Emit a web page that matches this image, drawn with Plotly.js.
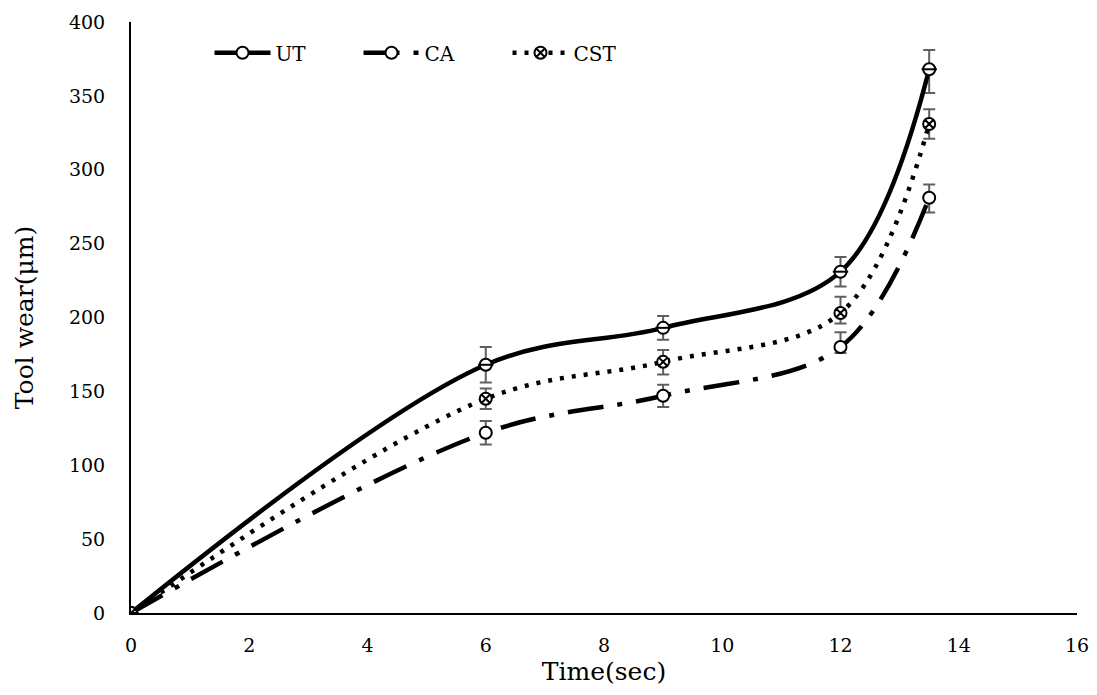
<!DOCTYPE html>
<html>
<head>
<meta charset="utf-8">
<script src="https://cdn.plot.ly/plotly-3.0.1.min.js"></script>
<style>html,body{margin:0;padding:0;background:#fff;}#chart{width:1097px;height:695px;}</style>
</head>
<body>
<div id="chart"></div>
<script>
const time = [0, 6, 9, 12, 13.5];
const utWear = [0, 168, 193, 231, 368];
const caWear = [0, 122, 147, 180, 281];
const cstWear = [0, 145, 170, 203, 331];
const utErrPlus = [0, 12, 8, 10, 13];
const utErrMinus = [0, 12, 8, 10, 16];
const caErrPlus = [0, 8, 7.5, 10, 9];
const caErrMinus = [0, 8, 7.5, 4, 10];
const cstErrPlus = [0, 7, 8, 11, 10];
const cstErrMinus = [0, 7, 8.5, 7, 10];
const seriesNames = ['UT', 'CA', 'CST'];
const xTicks = [0, 2, 4, 6, 8, 10, 12, 14, 16];
const yTicks = [0, 50, 100, 150, 200, 250, 300, 350, 400];

const errStyle = {color: '#5f5f5f', thickness: 2, width: 6};
const markerBase = {size: 12, color: '#ffffff', line: {color: '#000000', width: 2}};

function trace(name, y, plus, minus, dash, width, symbol) {
  return {
    x: time, y: y, name: name, type: 'scatter', mode: 'lines+markers',
    line: {color: '#000000', width: width, dash: dash, shape: 'spline', smoothing: 1},
    marker: Object.assign({}, markerBase, {symbol: symbol}),
    error_y: Object.assign({type: 'data', symmetric: false, array: plus, arrayminus: minus, visible: true}, errStyle)
  };
}

const data = [
  trace(seriesNames[0], utWear, utErrPlus, utErrMinus, 'solid', 4.5, 'circle'),
  trace(seriesNames[1], caWear, caErrPlus, caErrMinus, '36px,14px,5px,14px', 4.5, 'circle'),
  trace(seriesNames[2], cstWear, cstErrPlus, cstErrMinus, '4px,8px', 4.5, 'circle-x'),
  {x: time, y: utWear, type: 'scatter', mode: 'markers', showlegend: false, hoverinfo: 'skip',
   marker: {symbol: 'line-ew', size: 11, line: {color: '#000000', width: 2}}}
];

const layout = {
  width: 1097, height: 695,
  margin: {l: 131, r: 20, t: 22, b: 82},
  paper_bgcolor: '#ffffff', plot_bgcolor: '#ffffff',
  font: {family: 'DejaVu Serif, Liberation Serif, serif', color: '#000000', size: 19},
  showlegend: true,
  legend: {orientation: 'h', x: 0.083, y: 0.948, xanchor: 'left', yanchor: 'middle', itemwidth: 56,
           font: {size: 20}, entrywidth: 78, entrywidthmode: 'pixels', bgcolor: 'rgba(0,0,0,0)'},
  xaxis: {range: [0, 16], tickvals: xTicks, ticktext: xTicks.map(String), showgrid: false, zeroline: false,
          showline: true, linecolor: '#000000', linewidth: 2, ticks: '', ticklabelstandoff: 14,
          title: {text: 'Time(sec)', font: {size: 25}, standoff: 8}},
  yaxis: {range: [0, 400], tickvals: yTicks, ticktext: yTicks.map(String), showgrid: false, zeroline: false,
          showline: true, linecolor: '#000000', linewidth: 2, ticks: '', ticklabelstandoff: 20,
          title: {text: 'Tool wear(μm)', font: {size: 25}, standoff: 28}}
};

Plotly.newPlot('chart', data, layout, {displayModeBar: false, staticPlot: true});
</script>
</body>
</html>
